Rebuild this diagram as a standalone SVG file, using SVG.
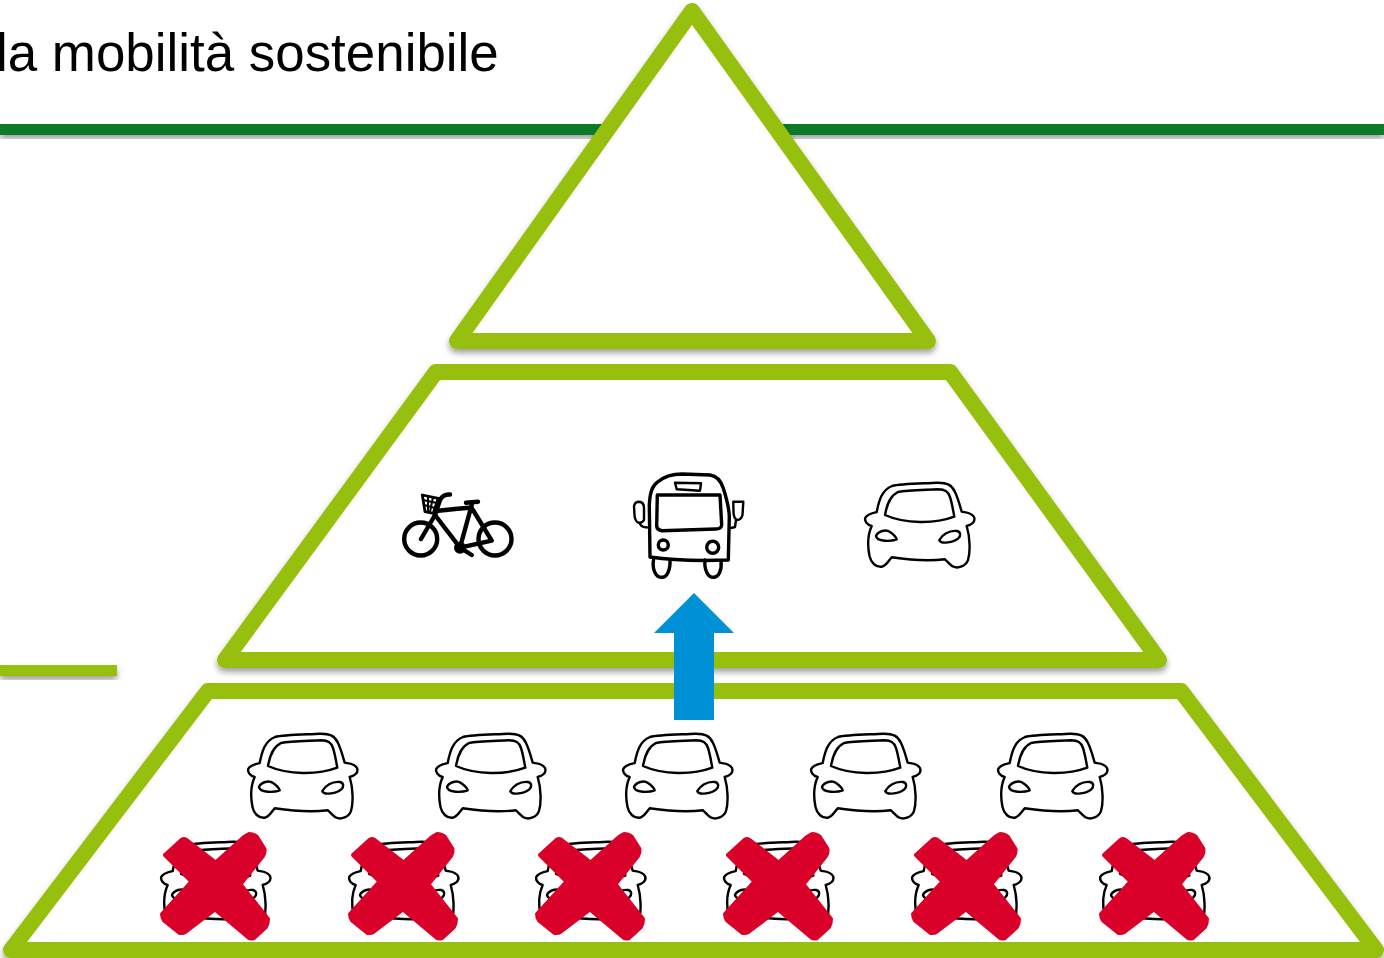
<svg xmlns="http://www.w3.org/2000/svg" xmlns:xlink="http://www.w3.org/1999/xlink" width="1384" height="958" viewBox="0 0 1384 958">
<style>
.lvl{fill:#fff;stroke:#97bf0d;stroke-width:16;stroke-linejoin:round;filter:url(#sh)}
.ink{fill:none;stroke:#000;stroke-width:2.4;stroke-linecap:round;stroke-linejoin:round}
.inkb{fill:none;stroke:#000;stroke-width:3.4;stroke-linecap:round;stroke-linejoin:round}
.bk{fill:none;stroke:#000;stroke-width:4.4;stroke-linecap:round;stroke-linejoin:round}
.title{font-family:"Liberation Sans",Arial,sans-serif;font-size:52.9px;fill:#000}
.rx{fill:#d90029;stroke:#d90029;stroke-width:4;stroke-linejoin:round}
</style>
<defs>
<filter id="sh" x="-5%" y="-5%" width="110%" height="140%">
<feDropShadow dx="0" dy="4" stdDeviation="3" flood-color="#000" flood-opacity="0.38"/>
</filter>
<g id="car">
<path class="ink" d="M11.700 30C14 18 17 8 27 4C36 1.500 60 1.500 72 .7C82 .5 87 3 90 10C93 16 95 24 96.700 29.700C100 30.500 106 30 109 35C111 40 106 43 101.700 44C105 55 105.500 70 103 78C101 84 93 87 88 84.500C85 83 82 79 80 77.300C65 79 45 78 26.700 75.300C24 78 22 83 17 84.700C11 85.500 6 81 4.500 74C2.500 64 3 52 6.700 44C2 43 -.5 39 .2 36C2 32 7 31 11.700 30Z"/>
<path class="ink" d="M20 33C22 22 25 14 33 10C42 8 60 8 73 7.300C80 7.500 83 9 85 15C87 21 88 28 89.300 34.700C70 42 40 42 20 33Z"/>
<path class="ink" d="M11 54C13 49 21 47 25 50C28 52 31 55 31.700 57.300C26 59.500 12 60 11 54Z"/>
<path class="ink" d="M74.300 58C77 53 84 48 92 49C96 50 96 54 93.300 56.300C89 60 76 63 74.300 58Z"/>
</g>
<path id="cross" class="rx" d="M-51 -31L-34 -46.500Q-32 -47.500 -30 -46.500L-.3 -23.500L28 -49Q30.500 -51 33 -52Q38 -52 41 -49L48.500 -37Q49 -33.500 47 -30L24.500 -1.700L52 33Q52 38 50 41L38 52Q35 53 33 52L-1 23.500L-30 45.500Q-33 47.500 -36.500 47L-52 34.500Q-54 31 -54 28L-24.500 -4.300Z"/>
</defs>
<rect width="1384" height="958" fill="#fff"/>
<g id="title"><text class="title" x="-4" y="71">la mobilità sostenibile</text></g>
<g id="rule-top"><rect x="0" y="124" width="1384" height="11" fill="#0e7a2a" filter="url(#sh)"/></g>
<g id="rule-left"><rect x="0" y="665" width="117" height="11" fill="#97bf0d" filter="url(#sh)"/></g>
<g id="level-top"><path class="lvl" d="M692 11L457 341H928Z"/></g>
<g id="level-middle"><path class="lvl" d="M436 372H950L1159 660H225Z"/></g>
<g id="level-bottom"><path class="lvl" d="M208 691H1181L1376 950H11Z"/></g>
<g id="bike">
<circle class="bk" cx="420.700" cy="539" r="16.500"/>
<circle class="bk" cx="495" cy="539" r="16.500"/>
<path class="bk" d="M460 547.700L471.700 505M438.300 510.700Q455 509 471.700 507.500M435 515L460 547.700M435 515L421 539M473 510L491.700 540.700L460 547.700M460 547.700L471.700 555M466 502.700L478 501.700"/>
<path class="bk" d="M435 515L440 500Q443 494 450 494.500"/>
<path d="M422.300 495L438.300 498.300L433.300 513.300L425 511.700Z" fill="none" stroke="#000" stroke-width="2.800" stroke-linejoin="round"/>
<path d="M423 500L437 503M424 505L435 508M428 496L428 512M433 497L430 512" fill="none" stroke="#000" stroke-width="2"/>
<circle cx="460" cy="547.700" r="6" fill="#000"/>
</g>
<g id="bus">
<path class="inkb" d="M650 557L649.300 505C650 492 652 486 658 481.700C665 476 672 474 682 474L710 475C717 476 721 481 723.300 488.300C727 500 729.300 510 729.300 517L728.300 560C700 561 670 560 650 557Z"/>
<path class="inkb" d="M657.300 495H720L721.700 525Q721 529 716 529L662 530.700Q657 530 656.700 526Z"/>
<path class="ink" d="M675 482.700L701 483.300L700 490.700L676.700 489.300Z"/>
<circle class="inkb" cx="663.300" cy="545" r="5"/>
<circle class="inkb" cx="712.700" cy="547.300" r="6"/>
<path class="inkb" d="M653.500 560C652 570 656 577.300 661.700 577.300C667 577.300 670.500 570 670 560M705 560C704 570 708 577.300 713.300 577.300C719 577.300 722 570 721 561"/>
<path class="ink" d="M634 506Q635 501.700 639 501.700Q644 502 644 508L644 520Q642 523.500 638 522.500Q635 521 634.500 515ZM640 523Q640 527 647 527.500"/>
<path class="ink" d="M733.300 501.700L743.300 501.700L742.500 515Q741 520 737 520Q733.500 518 733.500 512ZM736 520L735 527L731 528"/>
</g>
<g id="car-mid"><use xlink:href="#car" href="#car" x="865" y="482"/></g>
<g id="cars-row-1">
<use xlink:href="#car" href="#car" x="248" y="733"/>
<use xlink:href="#car" href="#car" x="436" y="733"/>
<use xlink:href="#car" href="#car" x="623" y="733"/>
<use xlink:href="#car" href="#car" x="811" y="733"/>
<use xlink:href="#car" href="#car" x="998" y="733"/>
</g>
<g id="cars-row-2">
<use xlink:href="#car" href="#car" x="161" y="841"/>
<use xlink:href="#car" href="#car" x="349" y="841"/>
<use xlink:href="#car" href="#car" x="536" y="841"/>
<use xlink:href="#car" href="#car" x="724" y="841"/>
<use xlink:href="#car" href="#car" x="912" y="841"/>
<use xlink:href="#car" href="#car" x="1100" y="841"/>
</g>
<g id="crosses">
<use xlink:href="#cross" href="#cross" x="216" y="886"/>
<use xlink:href="#cross" href="#cross" x="404" y="886"/>
<use xlink:href="#cross" href="#cross" x="591" y="886"/>
<use xlink:href="#cross" href="#cross" x="779" y="886"/>
<use xlink:href="#cross" href="#cross" x="967" y="886"/>
<use xlink:href="#cross" href="#cross" x="1155" y="886"/>
</g>
<g id="connectors">
<path d="M674 720V633H654L694 593L734 633H714V720Z" fill="#0090d6"/>
</g>
</svg>
